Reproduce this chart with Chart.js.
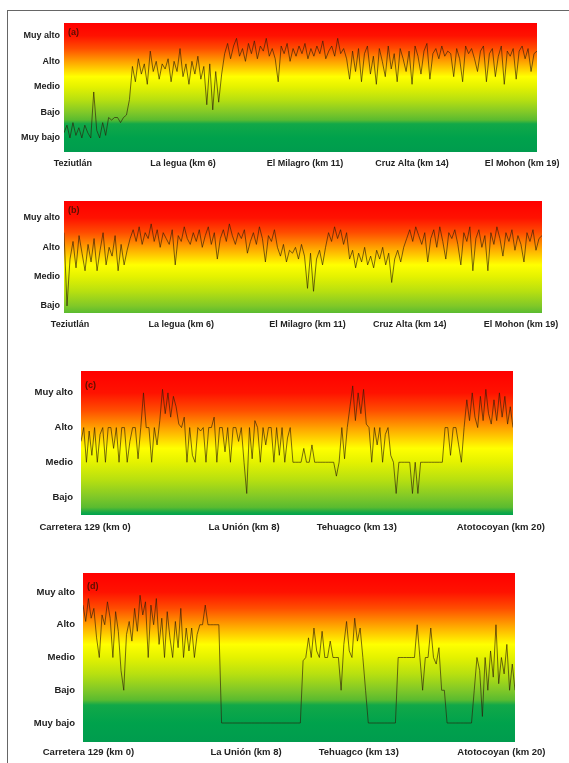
<!DOCTYPE html>
<html>
<head>
<meta charset="utf-8">
<script src="https://cdn.jsdelivr.net/npm/chart.js@4.4.1/dist/chart.umd.min.js"></script>
<style>
  html, body { margin: 0; padding: 0; background: #fff; width: 569px; height: 763px; overflow: hidden; }
  .frame { position: absolute; left: 7px; top: 10px; width: 600px; height: 800px; border: 1px solid #666; }
  .panel { position: absolute; left: 0; width: 569px; }
</style>
</head>
<body>
<div class="frame"></div>
<div class="panel" style="top:0;height:175px"><canvas id="chartA" width="569" height="175"></canvas></div>
<div class="panel" style="top:180px;height:160px"><canvas id="chartB" width="569" height="160"></canvas></div>
<div class="panel" style="top:350px;height:190px"><canvas id="chartC" width="569" height="190"></canvas></div>
<div class="panel" style="top:550px;height:213px"><canvas id="chartD" width="569" height="213"></canvas></div>
<script>
// levels of the qualitative scale
const levelNames = ['Muy bajo', 'Bajo', 'Medio', 'Alto', 'Muy alto'];

// route labels
const routeLabelsAB = ['Teziutlán', 'La legua (km 6)', 'El Milagro (km 11)', 'Cruz Alta (km 14)', 'El Mohon (km 19)'];
const routeTicksA = [3, 40, 81, 117, 154];
const routeTicksB = [2, 39, 81, 115, 152];
const routeLabelsCD = ['Carretera 129 (km 0)', 'La Unión (km 8)', 'Tehuagco (km 13)', 'Atotocoyan (km 20)'];
const routeTicksC = [1.5, 60, 101.5, 154.5];
const routeTicksD = [2, 60, 101.5, 154];

// level ticks shown on each panel
const levelTicksA = [1, 2, 3, 4, 5];
const levelTicksB = [2, 3, 4, 5];
const levelTicksC = [2, 3, 4, 5];
const levelTicksD = [1, 2, 3, 4, 5];

// series (a)
const seriesA = [
  1.2, 1.5, 1.0, 1.6, 1.1, 1.4, 1.0, 1.5, 1.2, 1.0,
  2.8, 1.3, 1.0, 1.6, 1.1, 1.8, 1.7, 1.8, 1.8, 1.6,
  1.8, 1.9, 2.5, 3.8, 3.2, 4.1, 3.5, 3.9, 3.1, 4.4,
  3.6, 4.0, 3.3, 3.9, 3.7, 4.1, 3.2, 4.0, 3.6, 4.5,
  3.4, 3.9, 3.1, 4.0, 3.5, 4.2, 3.3, 3.8, 2.3, 3.9,
  2.1, 3.6, 2.4, 3.5, 4.3, 4.7, 4.1, 4.6, 4.9, 4.2,
  4.5, 4.0, 4.7, 4.3, 4.8, 4.1, 4.6, 4.4, 4.9, 4.2,
  4.5, 4.1, 3.2, 4.6, 4.3, 4.7, 4.0, 4.5, 4.2, 4.6,
  4.3, 4.7, 4.1, 4.5, 4.2, 4.6, 4.3, 4.8, 4.1, 4.4,
  4.6, 4.2, 4.9, 4.3, 4.5, 4.1, 3.3, 4.4, 3.6, 4.5,
  3.2, 4.3, 4.6, 3.5, 4.2, 3.1, 4.5, 4.0, 3.4, 4.6,
  3.7, 4.3, 3.2, 4.5, 4.1, 3.6, 4.4, 3.1, 4.6, 4.2,
  3.5, 4.4, 4.7, 3.3, 4.3, 4.5, 4.1, 4.6, 4.2, 4.4,
  4.3, 3.4, 4.5, 4.1, 3.2, 4.6, 4.3, 4.5, 4.1, 3.6,
  4.4, 4.6, 3.2, 4.3, 4.5, 3.4, 4.2, 4.6, 3.1, 4.4,
  4.2, 4.5, 3.3, 4.4, 4.6, 4.1, 4.5, 3.6, 4.3, 4.4
];

// series (b)
const seriesB = [
  4.5, 2.0, 3.6, 4.2, 3.3, 4.4, 3.8, 3.2, 4.1, 3.5,
  4.3, 3.2, 3.9, 4.5, 3.4, 4.0, 3.7, 4.4, 3.2, 4.1,
  3.4, 3.9, 4.3, 4.6, 4.2, 4.7, 4.1, 4.5, 4.3, 4.8,
  4.2, 4.6, 4.0, 4.5, 4.3, 4.1, 4.6, 3.4, 4.4, 4.2,
  4.7, 4.3, 4.1, 4.5, 4.2, 4.6, 4.0, 4.4, 4.7, 4.1,
  4.5, 3.6, 4.3, 4.6, 4.2, 4.8, 4.4, 4.1, 4.5, 4.3,
  4.6, 3.8, 4.2, 4.5, 4.1, 4.7, 4.3, 3.5, 4.4, 4.2,
  4.6, 4.0, 3.7, 4.1, 3.5, 3.9, 3.8, 4.0, 3.6, 4.1,
  3.7, 2.6, 3.8, 2.5, 3.6, 3.9, 3.4, 4.0, 4.5, 4.2,
  4.7, 4.3, 4.6, 4.1, 4.5, 3.6, 3.9, 3.3, 3.8, 3.5,
  4.0, 3.4, 3.7, 3.3, 3.9, 3.6, 4.0, 3.4, 3.8, 2.8,
  3.6, 3.9, 3.5, 4.0, 4.3, 4.6, 4.2, 4.7, 4.4, 4.1,
  4.5, 3.5, 4.3, 4.6, 4.0, 4.7, 4.2, 3.6, 4.5, 4.3,
  4.6, 4.1, 3.4, 4.5, 4.2, 4.7, 3.2, 4.3, 4.6, 4.0,
  4.4, 3.2, 4.5, 4.1, 4.7, 4.3, 3.7, 4.5, 4.2, 4.6,
  3.9, 4.4, 4.1, 3.5, 4.5, 4.2, 4.6, 3.9, 4.3, 4.4
];

// series (c)
const seriesC = [
  3.6, 4.0, 3.0, 3.9, 3.2, 4.0, 3.0, 3.8,
  4.0, 3.0, 4.0, 4.0, 3.4, 4.0, 3.0, 4.0,
  4.0, 3.0, 3.6, 4.0, 4.0, 3.1, 4.0, 5.0,
  4.0, 4.0, 3.0, 4.0, 3.5, 4.2, 5.1, 4.4,
  5.0, 4.3, 4.9, 4.6, 4.1, 4.0, 4.3, 3.0,
  4.0, 3.2, 3.0, 4.0, 3.9, 4.0, 3.0, 4.0,
  4.0, 4.3, 3.0, 4.0, 4.0, 3.3, 4.0, 3.0,
  4.0, 4.0, 3.6, 4.0, 3.0, 2.1, 4.0, 3.1,
  4.2, 4.0, 3.0, 4.0, 3.5, 4.0, 4.0, 3.0,
  4.0, 3.2, 4.0, 3.0, 3.7, 4.0, 3.0, 3.0,
  3.0, 3.0, 3.4, 3.0, 3.0, 3.5, 3.0, 3.0,
  3.0, 3.0, 3.0, 3.0, 3.0, 3.0, 2.6, 3.0,
  4.0, 3.1, 4.0, 4.6, 5.2, 4.2, 5.0, 4.4,
  5.1, 4.1, 4.0, 3.0, 4.0, 3.5, 4.0, 3.0,
  3.8, 4.0, 3.2, 3.0, 2.1, 3.0, 3.0, 3.0,
  3.0, 3.0, 2.1, 3.0, 2.1, 3.0, 3.0, 3.0,
  3.0, 3.0, 3.0, 3.0, 3.0, 3.0, 4.0, 4.0,
  3.2, 4.0, 4.0, 3.5, 3.0, 4.0, 4.8, 4.2,
  5.0, 4.3, 4.0, 4.9, 4.2, 5.1, 4.4, 4.1,
  4.8, 4.2, 5.0, 4.3, 4.9, 4.1, 4.6, 4.0
];

// series (d)
const seriesD = [
  4.6, 4.1, 4.8, 4.2, 4.5, 3.6, 3.0, 4.3, 4.0, 4.7,
  4.2, 3.0, 4.4, 3.8, 2.6, 2.0, 3.7, 4.1, 3.5, 4.5,
  3.8, 4.9, 4.3, 4.7, 3.0, 4.6, 4.0, 4.8, 3.4, 4.2,
  3.0, 4.4, 3.6, 3.0, 4.1, 3.3, 4.5, 3.0, 3.9, 3.2,
  3.9, 3.0, 3.7, 4.0, 4.0, 4.6, 4.0, 4.0, 4.0, 4.0,
  4.0, 1.0, 1.0, 1.0, 1.0, 1.0, 1.0, 1.0, 1.0, 1.0,
  1.0, 1.0, 1.0, 1.0, 1.0, 1.0, 1.0, 1.0, 1.0, 1.0,
  1.0, 1.0, 1.0, 1.0, 1.0, 1.0, 1.0, 1.0, 1.0, 1.0,
  1.0, 2.9, 3.0, 3.6, 3.0, 3.9, 3.2, 3.0, 3.8, 3.0,
  3.0, 3.5, 3.0, 3.0, 3.0, 2.0, 3.4, 4.1, 3.2, 3.0,
  4.2, 3.5, 3.9, 3.0, 2.0, 1.0, 1.0, 1.0, 1.0, 1.0,
  1.0, 1.0, 1.0, 1.0, 1.0, 1.0, 3.0, 3.0, 3.0, 3.0,
  3.0, 3.0, 3.0, 4.0, 3.0, 2.0, 3.0, 3.0, 3.9, 3.0,
  2.8, 3.3, 2.0, 2.0, 1.0, 1.0, 1.0, 1.0, 1.0, 1.0,
  1.0, 1.0, 1.0, 1.0, 2.0, 3.0, 2.6, 1.2, 3.0, 2.0,
  3.2, 2.4, 4.0, 2.2, 3.0, 2.5, 3.4, 2.0, 2.8, 2.0
];

// background colour ramp, by level value
const rampLevels = [5.7, 5.0, 4.5, 4.0, 3.4, 3.0, 2.5, 2.0, 1.7, 1.55, 1.0, 0.4];
const rampColors = ['#ff0000', '#ff1200', '#ff4d00', '#ffa000', '#ffff00', '#e4f200', '#b8e010', '#80c828', '#5abb30', '#12a848', '#00a24c', '#009c4e'];

const levelBackground = {
    id: 'levelBackground',
    beforeDatasetsDraw(chart) {
        const { ctx, chartArea: a, scales: { y } } = chart;
        const g = ctx.createLinearGradient(0, a.top, 0, a.bottom);
        rampLevels.forEach((lv, i) => {
            const t = (y.getPixelForValue(lv) - a.top) / (a.bottom - a.top);
            g.addColorStop(Math.min(1, Math.max(0, t)), rampColors[i]);
        });
        ctx.save();
        ctx.fillStyle = g;
        ctx.fillRect(a.left, a.top, a.right - a.left, a.bottom - a.top);
        ctx.restore();
    }
};

const panelTag = {
    id: 'panelTag',
    afterDatasetsDraw(chart, args, opts) {
        const { ctx, chartArea: a } = chart;
        ctx.save();
        ctx.font = 'bold 9px "Liberation Sans", Arial, sans-serif';
        ctx.fillStyle = '#5a1000';
        ctx.textBaseline = 'top';
        ctx.fillText(opts.text, a.left + 4, a.top + opts.dy);
        ctx.restore();
    }
};

function makePanel(id, tag, values, lvTicks, xTicks, xLabels, box) {
    const points = values.map((v, i) => ({ x: i, y: v }));
    const font = { family: '"Liberation Sans", Arial, sans-serif', size: box.font, weight: 'bold' };
    new Chart(document.getElementById(id), {
        type: 'line',
        data: {
            datasets: [{
                data: points,
                borderColor: 'rgba(45, 30, 10, 0.8)',
                borderWidth: 0.8,
                pointRadius: 0,
                tension: 0
            }]
        },
        options: {
            responsive: false,
            animation: false,
            layout: { padding: { top: box.top, right: box.right, left: 0, bottom: 0 } },
            plugins: {
                legend: { display: false },
                tooltip: { enabled: false },
                panelTag: { text: tag, dy: box.tagDy }
            },
            scales: {
                x: {
                    type: 'linear',
                    min: 0,
                    max: values.length - 1,
                    grid: { display: false, drawTicks: false },
                    border: { display: false },
                    afterBuildTicks: s => { s.ticks = xTicks.map(v => ({ value: v })); },
                    afterFit: s => { s.height = box.xh; },
                    ticks: {
                        autoSkip: false,
                        maxRotation: 0,
                        padding: box.xpad,
                        color: '#222',
                        font: font,
                        callback: (v, i) => xLabels[i]
                    }
                },
                y: {
                    min: box.min,
                    max: box.max,
                    grid: { display: false, drawTicks: false },
                    border: { display: false },
                    afterBuildTicks: s => { s.ticks = lvTicks.map(v => ({ value: v })); },
                    afterFit: s => { s.width = box.yw; },
                    ticks: {
                        padding: box.ypad,
                        color: '#222',
                        font: font,
                        callback: v => levelNames[Math.round(v) - 1]
                    }
                }
            }
        },
        plugins: [levelBackground, panelTag]
    });
}

makePanel('chartA', '(a)', seriesA, levelTicksA, routeTicksA, routeLabelsAB,
    { top: 23, right: 32, yw: 64, xh: 23, min: 0.45, max: 5.5, xpad: 6, ypad: 4, font: 9, tagDy: 5 });
makePanel('chartB', '(b)', seriesB, levelTicksB, routeTicksB, routeLabelsAB,
    { top: 21, right: 27, yw: 64, xh: 27, min: 1.76, max: 5.58, xpad: 6, ypad: 4, font: 9, tagDy: 5 });
makePanel('chartC', '(c)', seriesC, levelTicksC, routeTicksC, routeLabelsCD,
    { top: 21, right: 56, yw: 81, xh: 25, min: 1.48, max: 5.63, xpad: 7, ypad: 8, font: 9.5, tagDy: 10 });
makePanel('chartD', '(d)', seriesD, levelTicksD, routeTicksD, routeLabelsCD,
    { top: 23, right: 54, yw: 83, xh: 21, min: 0.42, max: 5.58, xpad: 5, ypad: 8, font: 9.5, tagDy: 9 });
</script>
</body>
</html>
